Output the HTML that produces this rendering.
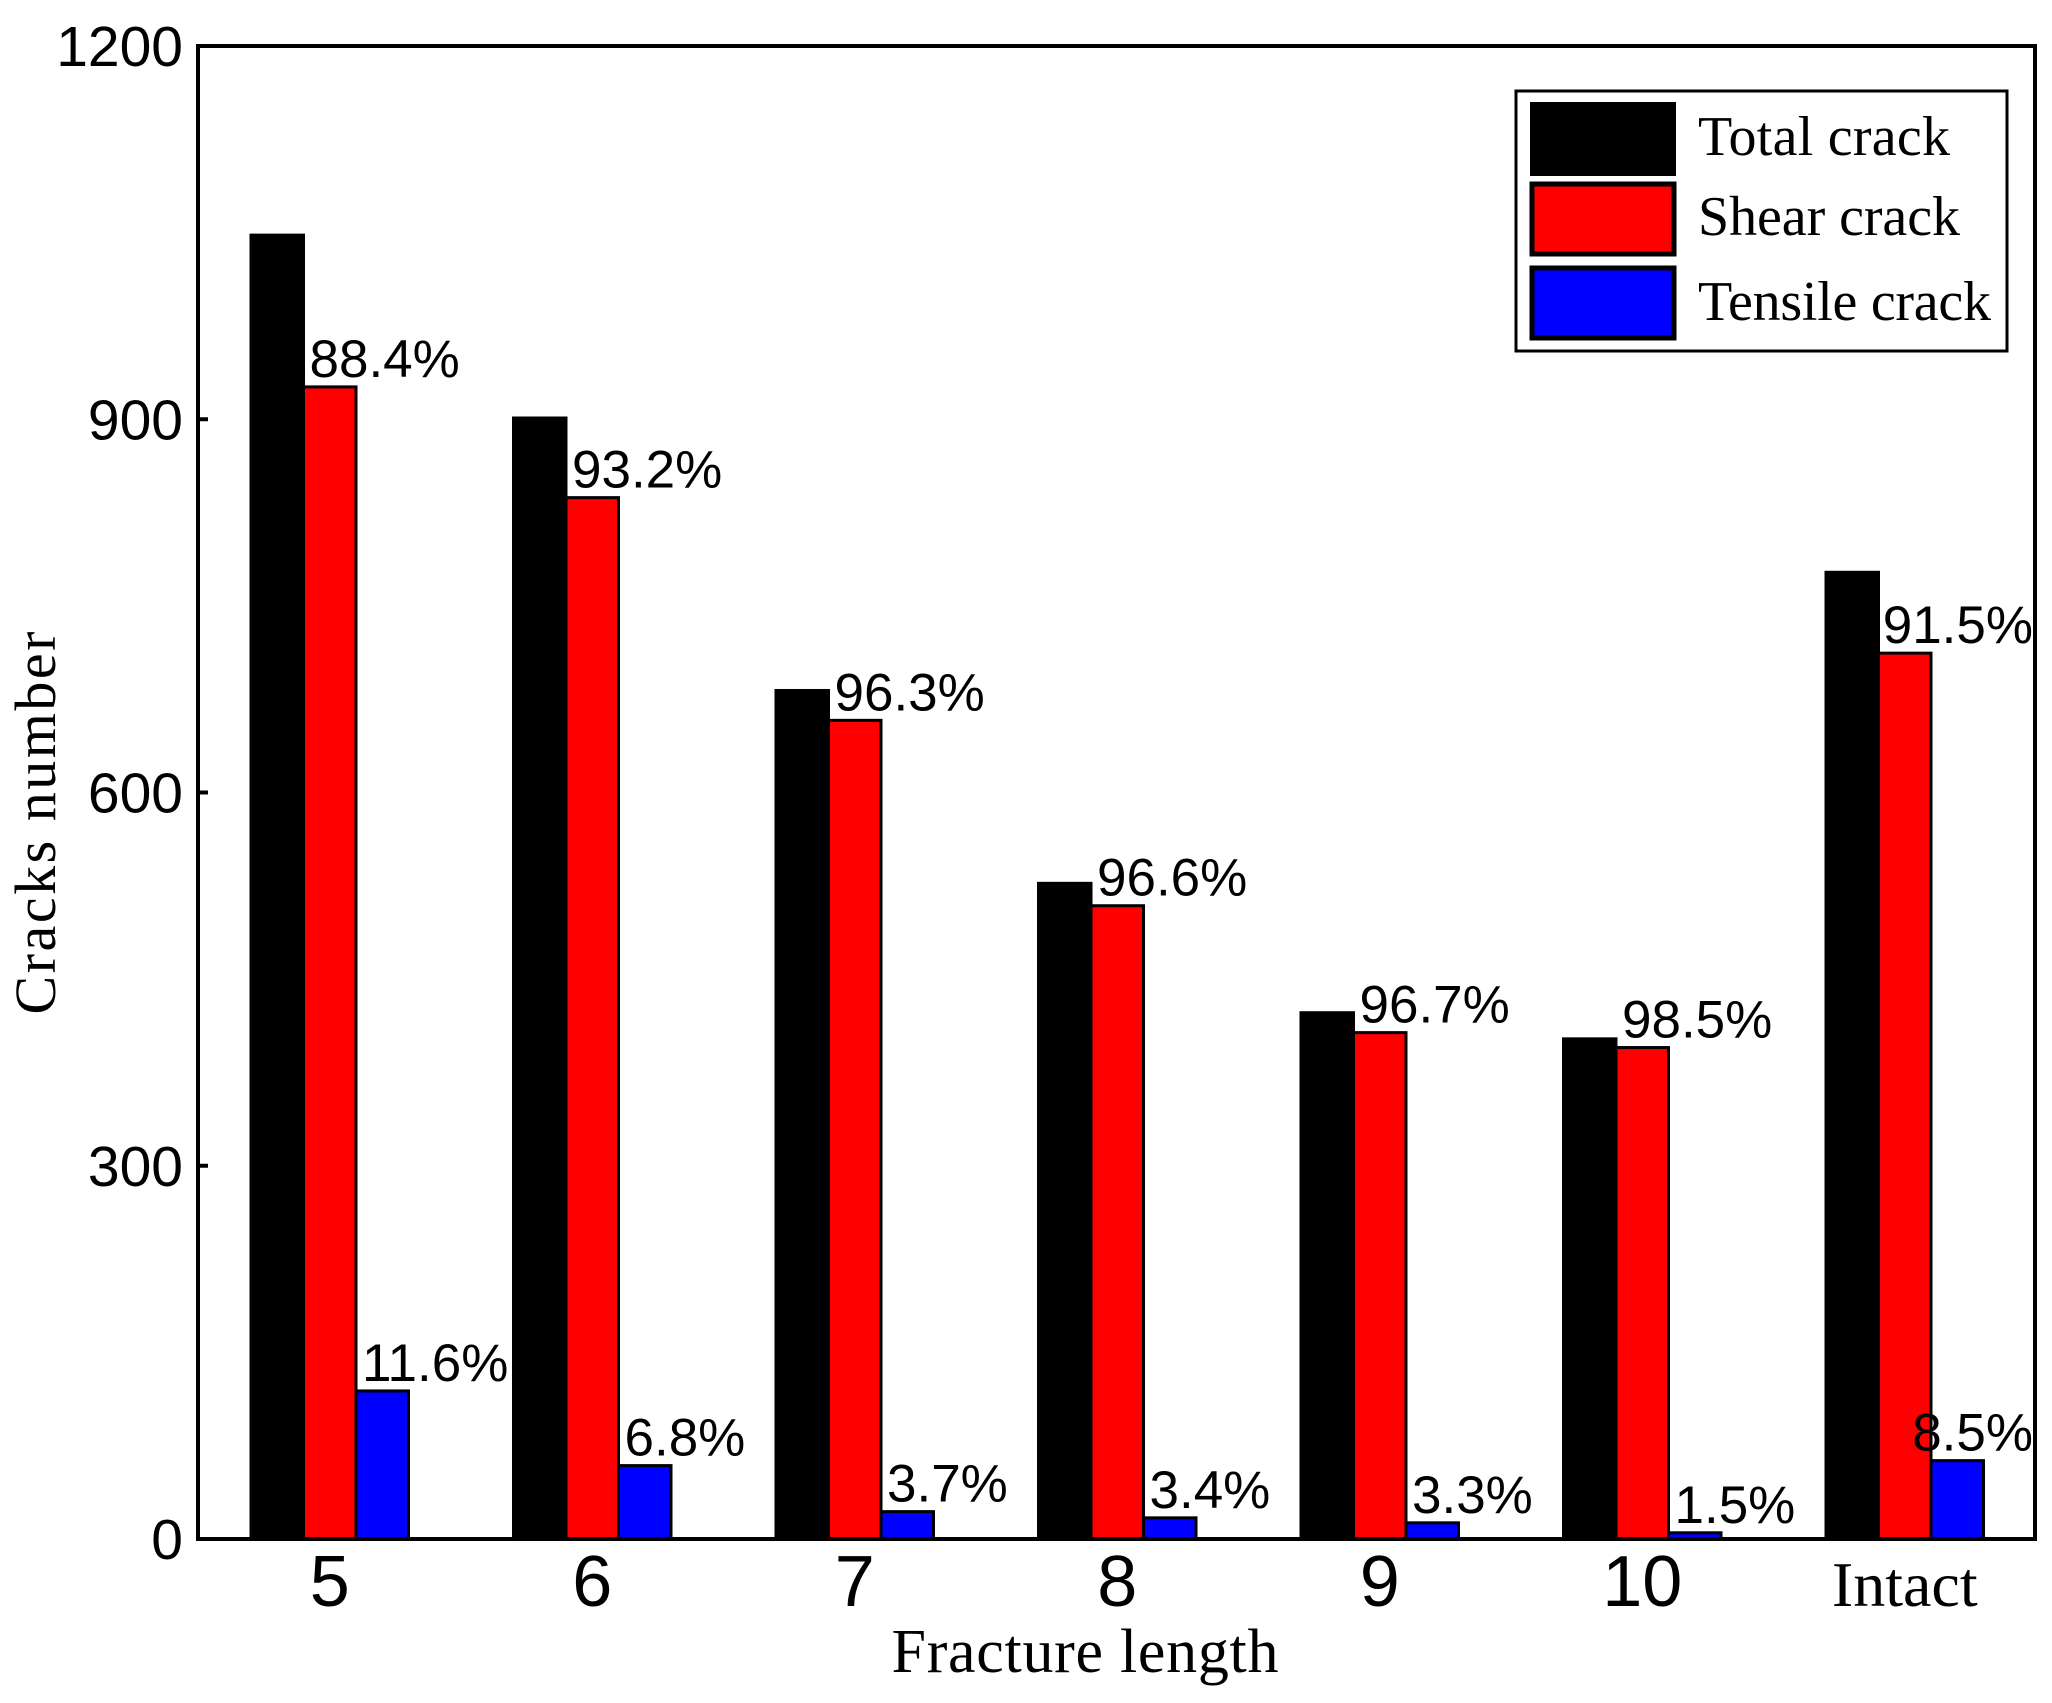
<!DOCTYPE html>
<html><head><meta charset="utf-8"><style>html,body{margin:0;padding:0;background:#fff}svg{display:block}</style></head>
<body>
<svg id="chart" width="2052" height="1703" viewBox="0 0 2052 1703" xmlns="http://www.w3.org/2000/svg">
<rect x="0" y="0" width="2052" height="1703" fill="#fff"/>
<g id="bars"></g>
<g id="labels"></g>
<rect x="198" y="46" width="1837" height="1493" fill="none" stroke="#000" stroke-width="4"/>
<g id="yaxis"></g>
<g id="xaxis"></g>
<text x="1085" y="1672" font-family="Liberation Serif, serif" font-size="62" text-anchor="middle" textLength="387">Fracture length</text>
<text transform="translate(55,823) rotate(-90)" font-family="Liberation Serif, serif" font-size="58" text-anchor="middle" textLength="383">Cracks number</text>
<g>
<rect x="1516" y="91" width="491" height="260" fill="#fff" stroke="#000" stroke-width="3"/>
<rect x="1532" y="104" width="142" height="70" fill="#000" stroke="#000" stroke-width="4"/>
<text x="1698" y="155" font-family="Liberation Serif, serif" font-size="56" textLength="252">Total crack</text>
<rect x="1532" y="184" width="142" height="70" fill="#f00" stroke="#000" stroke-width="5"/>
<text x="1698" y="235" font-family="Liberation Serif, serif" font-size="56" textLength="262">Shear crack</text>
<rect x="1532" y="268" width="142" height="70" fill="#00f" stroke="#000" stroke-width="5"/>
<text x="1698" y="320" font-family="Liberation Serif, serif" font-size="56" textLength="293">Tensile crack</text>
</g>
</svg>
<script>
const categories = ["5","6","7","8","9","10","Intact"];
const totalCrack = [1048, 901, 682, 527, 423, 402, 777];
const shearCrack = [926, 837, 658, 509, 407, 395, 712];
const tensileCrack = [119, 59, 22, 17, 13, 5, 63];
const shearPct = ["88.4%","93.2%","96.3%","96.6%","96.7%","98.5%","91.5%"];
const tensilePct = ["11.6%","6.8%","3.7%","3.4%","3.3%","1.5%","8.5%"];
const yTicks = [0, 300, 600, 900, 1200];

const NS = "http://www.w3.org/2000/svg";
const X0 = 198, X1 = 2035, Y0 = 1539, YT = 46, YMAX = 1200;
const groupStart0 = 251, groupStep = 262.5, barW = 52.5;
function y(v){ return Y0 - (v / YMAX) * (Y0 - YT); }
function gx(i){ return groupStart0 + i * groupStep; }
function mk(tag, attrs, parent){ const e = document.createElementNS(NS, tag); for (const k in attrs) e.setAttribute(k, attrs[k]); parent.appendChild(e); return e; }

const barsG = document.getElementById('bars');
const labelsG = document.getElementById('labels');
const series = [[totalCrack, '#000', 'total'], [shearCrack, '#f00', 'shear'], [tensileCrack, '#00f', 'tensile']];
categories.forEach((c, i) => {
  series.forEach((s, j) => {
    const v = s[0][i];
    const r = mk('rect', {x: gx(i) + j * barW, y: y(v), width: barW, height: Y0 - y(v), fill: s[1], stroke: '#000', 'stroke-width': 3}, barsG);
    
    
  });
  [[shearCrack, shearPct, 1], [tensileCrack, tensilePct, 2]].forEach(p => {
    const t = mk('text', {x: gx(i) + p[2] * barW + 6, y: y(p[0][i]) - 10, 'font-family': 'Liberation Sans, sans-serif', 'font-size': 53}, labelsG);
    t.textContent = p[1][i];
    
    
    const w = t.getComputedTextLength();
    const xx = parseFloat(t.getAttribute('x'));
    if (xx + w > X1 - 2) t.setAttribute('x', X1 - 2 - w);
  });
});

const yG = document.getElementById('yaxis');
yTicks.forEach(v => {
  const l = mk('line', {x1: X0, x2: X0 + 10, y1: y(v), y2: y(v), stroke: '#000', 'stroke-width': 4}, yG);
  
  
  const t = mk('text', {x: 183, y: y(v) + 20, 'text-anchor': 'end', 'font-family': 'Liberation Sans, sans-serif', 'font-size': 57}, yG);
  t.textContent = v;
  
  
});
const xG = document.getElementById('xaxis');
categories.forEach((c, i) => {
  const cx = gx(i) + 1.5 * barW;
  const serif = isNaN(+c);
  const t = mk('text', {x: cx, y: serif ? 1606 : 1606, 'text-anchor': 'middle', 'font-family': serif ? 'Liberation Serif, serif' : 'Liberation Sans, sans-serif', 'font-size': serif ? 64 : 72}, xG);
  t.textContent = c;
  
  
});
</script>
</body></html>
